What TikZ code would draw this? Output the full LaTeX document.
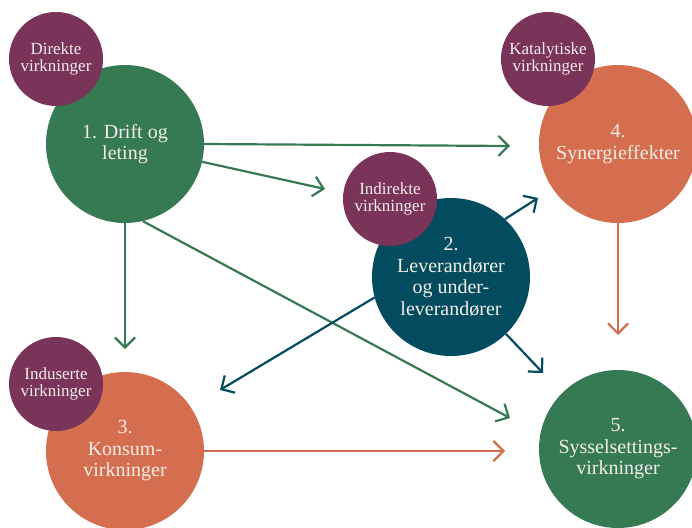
\documentclass[tikz,border=0pt]{standalone}
\usepackage{fontspec}
\setmainfont{Liberation Serif}
\usetikzlibrary{arrows.meta}
\definecolor{groenn}{HTML}{367A54}
\definecolor{lilla}{HTML}{7A3359}
\definecolor{petrol}{HTML}{034C5F}
\definecolor{oransje}{HTML}{D46E4F}
\definecolor{tekst}{HTML}{F4EEE8}

\begin{document}
\begin{tikzpicture}[x=1pt,y=-1pt,
    hoved/.style={circle,inner sep=0pt,minimum size=158pt,align=center,text=tekst,font=\fontsize{20}{21.5}\selectfont},
    virkning/.style={circle,fill=lilla,inner sep=0pt,minimum size=94pt,align=center,text=tekst,font=\fontsize{17}{17.5}\selectfont},
    pil/.style={line width=2.2pt,-{Straight Barb[length=10pt,width=20pt]}}]
            \useasboundingbox (0,0) rectangle (692,527);
            % spisser
            \coordinate (T14) at (510,146);
            \coordinate (T12) at (325,189);
            \coordinate (T13) at (125,349);
            \coordinate (T15) at (510,418);
            \coordinate (T24) at (538,198);
            \coordinate (T25) at (543,373);
            \coordinate (T23) at (220,390);
            \coordinate (T35) at (505,451);
            \coordinate (T45) at (618,335);

            \node[hoved, fill=groenn] (drift) at (125,144) {1. Drift og\\leting};
            \node[hoved, fill=petrol] (lev) at (451,277) {2.\\Leverandører\\og under-\\leverandører};
            \node[hoved, fill=oransje] (konsum) at (125,451) {3.\\Konsum-\\virkninger};
            \node[hoved, fill=oransje] (synergi) at (618,144) {4.\\Synergieffekter};
            \node[hoved, fill=groenn] (syss) at (618,449) {5.\\Sysselsettings-\\virkninger};

            \node[virkning] (direkte) at (56,59) {Direkte\\virkninger};
            \node[virkning] (indirekte) at (390,199) {Indirekte\\virkninger};
            \node[virkning] (katalytiske) at (548,59) {Katalytiske\\virkninger};
            \node[virkning] (induserte) at (56,384) {Induserte\\virkninger};

            \draw[pil, groenn] (drift.east) -- (T14);
            \draw[pil, groenn] (drift.-13) -- (T12);
            \draw[pil, groenn] (drift.south) -- (T13);
            \draw[pil, groenn] (drift.-77) -- (T15);
            \draw[pil, petrol] (lev.47) -- (T24);
            \draw[pil, petrol] (lev.-46) -- (T25);
            \draw[pil, petrol] (lev.195) -- (T23);
            \draw[pil, oransje] (konsum.east) -- (T35);
            \draw[pil, oransje] (synergi.south) -- (T45);
        \end{tikzpicture}
\end{document}
